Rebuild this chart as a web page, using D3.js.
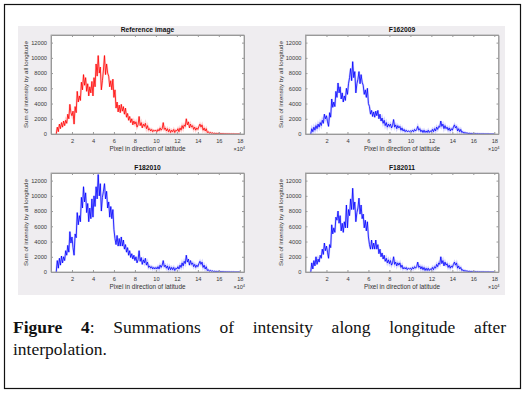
<!DOCTYPE html>
<html>
<head>
<meta charset="utf-8">
<script src="https://cdn.jsdelivr.net/npm/d3@7"></script>
<style>
  body { margin: 0; background: #fff; }
  #fig { position: relative; width: 529px; height: 394px; }
  #caption {
    position: absolute; left: 13px; top: 317px; width: 493px;
    font-family: "Liberation Serif", serif; font-size: 17.5px; line-height: 21.5px;
    color: #111;
  }
  #caption .l1 { text-align: justify; text-align-last: justify; }
</style>
</head>
<body>
<div id="fig"></div>
<script>
// x positions: pixel index / 1e4, sampled every 0.1 from 0.5 to 18.0
var xPos = d3.range(176).map(function(i) { return (5 + i) / 10; });

var xTicks = [2, 4, 6, 8, 10, 12, 14, 16, 18];
var yTicks = [0, 2000, 4000, 6000, 8000, 10000, 12000];

var titles = ["Reference image", "F162009", "F182010", "F182011"];

var refImage = [
  0, 900, 300, 1300, 700,
  1500, 900, 1700, 1100, 1800, 1400, 2600, 2000, 3900, 2800,
  2400, 3000, 1300, 3600, 2800, 5600, 4200, 5000, 4400, 6800,
  5800, 7800, 6400, 7400, 5600, 6600, 5000, 6200, 5400, 6900,
  5000, 7400, 6200, 9200, 7600, 10300, 8000, 8800, 5800, 7000,
  8400, 10300, 7800, 9200, 8000, 7600, 6200, 7000, 5800, 7200,
  4800, 5800, 3400, 4200, 2900, 3800, 2800, 3900, 3000, 3600,
  2600, 3400, 2200, 2700, 1800, 2300, 1500, 2000, 1200, 1700,
  1300, 1600, 900, 1200, 2300, 1100, 1500, 800, 1300, 1000,
  1400, 700, 1100, 500, 700, 400, 600, 300, 500, 400,
  500, 300, 600, 400, 800, 500, 700, 1500, 600, 800,
  400, 700, 300, 600, 200, 500, 300, 600, 200, 500,
  400, 700, 300, 800, 500, 1100, 700, 1200, 1000, 2000,
  1200, 1600, 800, 1300, 900, 1100, 600, 900, 500, 800,
  600, 1000, 1300, 900, 1200, 500, 800, 400, 700, 200,
  300, 100, 200, 100, 150, 50, 100, 50, 80, 30,
  100, 30, 60, 20, 40, 10, 30, 10, 20, 10,
  20, 0, 10, 0, 10, 0, 0, 0, 0, 0,
  0
];

var f162009 = [
  0, 700, 300, 900, 500,
  1100, 700, 1300, 900, 1500, 1100, 1800, 1400, 2600, 2000,
  2400, 1600, 1000, 2800, 2200, 4600, 3500, 4200, 3600, 5600,
  4800, 6700, 5400, 6200, 4600, 5400, 4200, 5000, 4400, 6000,
  5200, 6600, 7400, 8600, 7000, 9500, 7400, 8200, 5400, 6600,
  7200, 8200, 6600, 7800, 6800, 6400, 5200, 5800, 4800, 6000,
  4000, 3600, 2600, 3100, 2300, 2900, 2200, 3000, 2400, 3100,
  2000, 2600, 1700, 2100, 1400, 1800, 1100, 1500, 900, 1300,
  1000, 1300, 800, 1100, 1900, 900, 1200, 700, 1100, 800,
  1000, 500, 800, 400, 600, 300, 500, 300, 400, 300,
  400, 300, 500, 300, 600, 400, 600, 1000, 500, 700,
  300, 500, 200, 500, 200, 400, 200, 500, 200, 400,
  300, 600, 300, 700, 400, 900, 600, 1000, 900, 1700,
  1000, 1300, 700, 1100, 700, 900, 500, 800, 400, 700,
  500, 900, 1200, 800, 1000, 400, 700, 300, 600, 200,
  300, 100, 200, 100, 150, 50, 100, 50, 80, 30,
  80, 30, 50, 20, 40, 10, 30, 10, 20, 10,
  20, 0, 10, 0, 10, 0, 0, 0, 0, 0,
  0
];

var f182010 = [
  0, 1500, 500, 1800, 900,
  2100, 1200, 2000, 1500, 2800, 2200, 3500, 2600, 5300, 3800,
  4600, 3200, 2200, 5000, 4500, 7800, 6200, 7400, 6600, 9800,
  8400, 11200, 9200, 10400, 7800, 9000, 6600, 8400, 7000, 9600,
  7200, 10000, 8600, 11200, 9600, 12800, 10000, 11600, 8000, 9800,
  10600, 11600, 9600, 10600, 8400, 9200, 7200, 8600, 7000, 8200,
  5600, 4400, 3600, 4800, 3400, 4400, 3400, 4600, 3400, 4200,
  3000, 3600, 2600, 3200, 2200, 2800, 1900, 2400, 1700, 2200,
  1500, 2000, 1200, 1600, 2800, 1400, 1900, 1000, 1600, 1200,
  1800, 900, 1300, 600, 800, 500, 700, 400, 600, 400,
  600, 400, 700, 400, 900, 600, 900, 1500, 700, 900,
  500, 800, 300, 700, 300, 600, 300, 600, 200, 500,
  400, 700, 400, 900, 600, 1200, 800, 1400, 1100, 2200,
  1300, 1700, 900, 1500, 1000, 1200, 700, 1000, 600, 900,
  700, 1100, 1400, 1000, 1300, 600, 900, 400, 700, 200,
  300, 100, 200, 100, 150, 50, 100, 50, 80, 30,
  100, 30, 60, 20, 40, 10, 30, 10, 20, 10,
  20, 0, 10, 0, 10, 0, 0, 0, 0, 0,
  0
];

var f182011 = [
  0, 1200, 400, 1500, 800,
  2000, 1000, 1700, 1300, 2200, 1800, 3000, 2300, 3800, 2800,
  3400, 2600, 1800, 3600, 3200, 6200, 5000, 5800, 5200, 7200,
  6800, 8000, 6400, 7400, 5400, 6400, 5200, 6600, 5800, 8800,
  5800, 8200, 7400, 9600, 8200, 11000, 8200, 9200, 6600, 7800,
  8400, 9700, 7600, 8800, 7000, 7600, 5800, 6800, 5400, 6600,
  4600, 3600, 3000, 4200, 3000, 3800, 3000, 4200, 3000, 3600,
  2400, 3000, 2000, 2500, 1700, 2200, 1400, 1800, 1200, 1600,
  1100, 1500, 900, 1200, 2000, 1000, 1300, 800, 1200, 900,
  1200, 600, 900, 400, 600, 400, 600, 300, 500, 400,
  500, 300, 600, 400, 700, 500, 700, 1300, 600, 800,
  400, 700, 300, 600, 200, 500, 200, 500, 200, 400,
  300, 600, 300, 700, 500, 1000, 700, 1200, 1000, 2000,
  1100, 1500, 800, 1300, 900, 1100, 600, 900, 500, 800,
  600, 1000, 1300, 900, 1200, 500, 800, 400, 600, 200,
  300, 100, 200, 100, 150, 50, 100, 50, 80, 30,
  80, 30, 50, 20, 40, 10, 30, 10, 20, 10,
  20, 0, 10, 0, 10, 0, 0, 0, 0, 0,
  0
];

var series = [refImage, f162009, f182010, f182011];
var colors = ["#ff0000", "#0000ff", "#0000ff", "#0000ff"];

var svg = d3.select("#fig").append("svg")
  .attr("width", 529).attr("height", 394)
  .style("position", "absolute").style("left", 0).style("top", 0);

// outer frame
svg.append("rect")
  .attr("x", 4.5).attr("y", 4.5).attr("width", 516).attr("height", 384)
  .attr("fill", "none").attr("stroke", "#111").attr("stroke-width", 1.2);

// light grey figure background
svg.append("rect")
  .attr("x", 18).attr("y", 26).attr("width", 487).attr("height", 269)
  .attr("fill", "#efedf0");

// panel positions (left, top)
var panels = [
  {x: 51, y: 35}, {x: 305.5, y: 35},
  {x: 51, y: 173}, {x: 305.5, y: 173}
];
var w = 193, h = 99;
var fmt = d3.format("d");

panels.forEach(function(p, k) {
  var x = d3.scaleLinear().domain([0, 18.4]).range([0, w]);
  var y = d3.scaleLinear().domain([0, 13000]).range([h, 0]);

  var g = svg.append("g").attr("transform", "translate(" + p.x + "," + p.y + ")");

  g.append("rect").attr("width", w).attr("height", h).attr("fill", "#fff");

  var line = d3.line()
    .x(function(d, i) { return x(xPos[i]); })
    .y(function(d) { return y(d); });

  // soft halo then the line itself
  g.append("path").datum(series[k])
    .attr("d", line).attr("fill", "none")
    .attr("stroke", colors[k]).attr("stroke-opacity", 0.18).attr("stroke-width", 2.2);
  g.append("path").datum(series[k])
    .attr("d", line).attr("fill", "none")
    .attr("stroke", colors[k]).attr("stroke-width", 0.8);

  // axes, ticks pointing inward like matlab
  g.append("g").attr("transform", "translate(0," + h + ")")
    .call(d3.axisBottom(x).tickValues(xTicks).tickSizeInner(-2).tickSizeOuter(0).tickPadding(5));
  g.append("g")
    .call(d3.axisLeft(y).tickValues(yTicks).tickFormat(fmt).tickSizeInner(-2).tickSizeOuter(0).tickPadding(4));
  g.append("g")
    .call(d3.axisTop(x).tickValues(xTicks).tickSizeInner(-2).tickSizeOuter(0).tickFormat(""));
  g.append("g").attr("transform", "translate(" + w + ",0)")
    .call(d3.axisRight(y).tickValues(yTicks).tickSizeInner(-2).tickSizeOuter(0).tickFormat(""));

  g.selectAll(".domain").attr("stroke", "#9a9a9a");
  g.selectAll(".tick line").attr("stroke", "#9a9a9a");
  g.selectAll(".tick text")
    .attr("fill", "#3a3a3a")
    .style("font-family", "Liberation Sans, Arial, sans-serif")
    .style("font-size", "5.7px");

  g.append("rect").attr("width", w).attr("height", h)
    .attr("fill", "none").attr("stroke", "#9a9a9a").attr("stroke-width", 0.8);

  // title
  g.append("text")
    .attr("x", w / 2).attr("y", -3.5)
    .attr("text-anchor", "middle")
    .style("font-family", "Liberation Sans, Arial, sans-serif")
    .style("font-size", "6.7px").style("font-weight", "bold")
    .attr("fill", "#111")
    .text(titles[k]);

  // x label
  g.append("text")
    .attr("x", w / 2).attr("y", h + 16.5)
    .attr("text-anchor", "middle")
    .style("font-family", "Liberation Sans, Arial, sans-serif")
    .style("font-size", "6.4px")
    .attr("fill", "#333")
    .text("Pixel in direction of latitude");

  // exponent note
  var ex = g.append("text")
    .attr("x", w + 1).attr("y", h + 17)
    .attr("text-anchor", "end")
    .style("font-family", "Liberation Sans, Arial, sans-serif")
    .style("font-size", "5.5px")
    .attr("fill", "#333");
  ex.append("tspan").text("\u00d710");
  ex.append("tspan").attr("dy", -2.5).style("font-size", "4px").text("4");

  // y label
  g.append("text")
    .attr("transform", "translate(-23," + (h / 2) + ") rotate(-90)")
    .attr("text-anchor", "middle")
    .style("font-family", "Liberation Sans, Arial, sans-serif")
    .style("font-size", "6.2px")
    .attr("fill", "#333")
    .text("Sum of intensity by all longitude");
});

// caption, first line justified across the box as in the source
var cap = d3.select("#fig").append("div").attr("id", "caption");
var l1 = cap.append("div").attr("class", "l1");
l1.append("b").text("Figure 4");
l1.append("span").text(": Summations of intensity along longitude after");
cap.append("div").text("interpolation.");
</script>
</body>
</html>
